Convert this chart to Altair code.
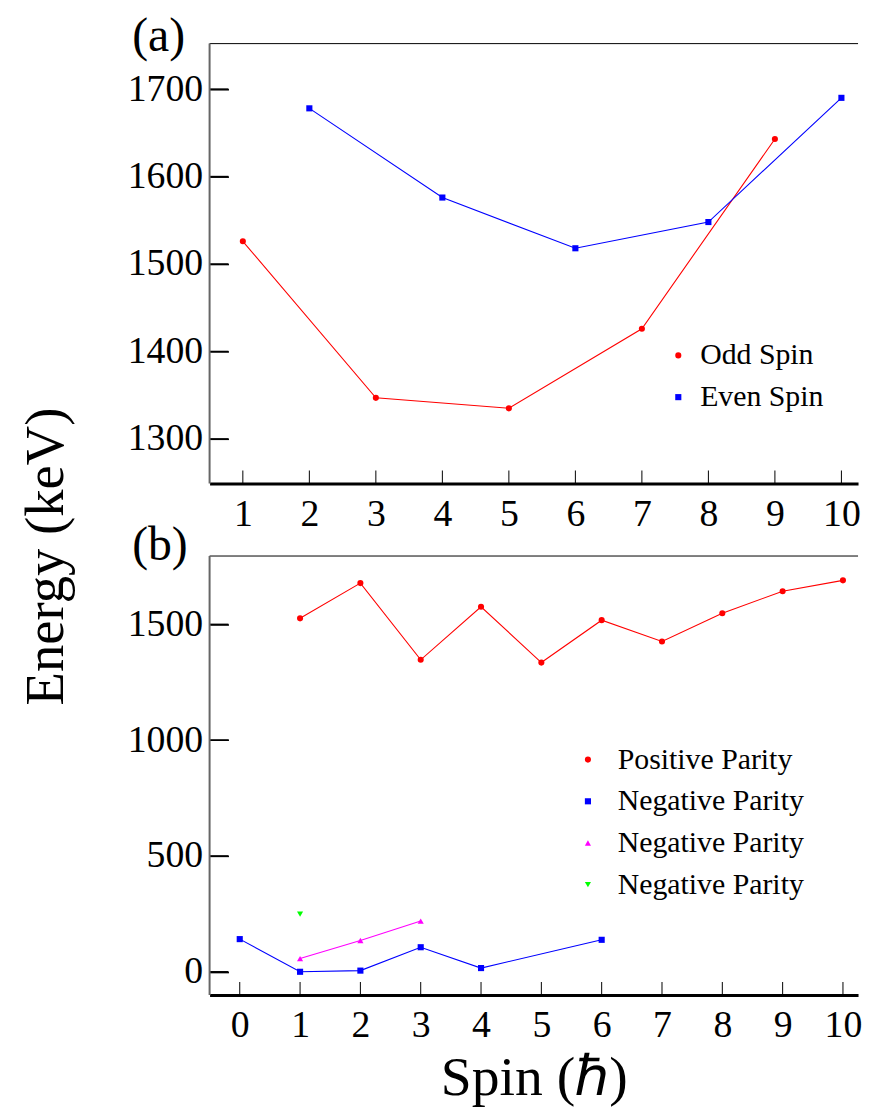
import altair as alt
import pandas as pd

# ---------------- data ----------------
odd_spin = [1, 3, 5, 7, 9]
odd_energy = [1526, 1347, 1335, 1426, 1643]
even_spin = [2, 4, 6, 8, 10]
even_energy = [1678, 1576, 1518, 1548, 1690]

pos_spin = [1, 2, 3, 4, 5, 6, 7, 8, 9, 10]
pos_energy = [1526, 1678, 1347, 1576, 1335, 1518, 1426, 1548, 1643, 1690]
neg1_spin = [0, 1, 2, 3, 4, 6]
neg1_energy = [141, 0, 5, 106, 16, 138]
neg2_spin = [1, 2, 3]
neg2_energy = [57, 135, 219]
neg3_spin = [1]
neg3_energy = [249]

top_series = ["Odd Spin", "Even Spin"]
bot_series = ["Positive Parity", "Negative Parity 1", "Negative Parity 2", "Negative Parity 3"]

xticks_a = [1, 2, 3, 4, 5, 6, 7, 8, 9, 10]
yticks_a = [1300, 1400, 1500, 1600, 1700]
xticks_b = [0, 1, 2, 3, 4, 5, 6, 7, 8, 9, 10]
yticks_b = [0, 500, 1000, 1500]

FONT = "Liberation Serif"
W = 653
H_A = 443
H_B = 442
YTICK = 19


def frame(spins, energies, name):
    return pd.DataFrame({"spin": spins, "energy": energies, "series": [name] * len(spins)})


top_df = pd.concat([frame(odd_spin, odd_energy, top_series[0]),
                    frame(even_spin, even_energy, top_series[1])])
bot_df = pd.concat([frame(pos_spin, pos_energy, bot_series[0]),
                    frame(neg1_spin, neg1_energy, bot_series[1]),
                    frame(neg2_spin, neg2_energy, bot_series[2]),
                    frame(neg3_spin, neg3_energy, bot_series[3])])


def panel(df, series, colors, shapes, xdom, ydom, xticks, yticks, H, label, title_dy,
          leg_kw, ytitle, xtitle):
    xs = alt.Scale(domain=xdom, nice=False, zero=False)
    ys = alt.Scale(domain=ydom, nice=False, zero=False)
    xaxis = alt.Axis(values=xticks, ticks=False, grid=False, domainColor="black",
                     domainWidth=3, labelFont=FONT, labelFontSize=38, labelColor="black",
                     labelPadding=12, labelFlush=False, format="d", title=xtitle,
                     titleFont=FONT, titleFontSize=56, titleFontWeight="normal",
                     titleColor="black", titlePadding=6)
    # y axis moved inward so that its ticks point into the plot from the left edge
    yaxis_kw = dict(values=yticks, ticks=True, tickSize=YTICK, tickColor="black",
                    tickWidth=1.5, tickOpacity=1, offset=-YTICK, domain=False, grid=False,
                    labelFont=FONT, labelFontSize=38, labelColor="black",
                    labelPadding=7, labelFlush=False, format="d", title=ytitle,
                    titleFont=FONT, titleFontSize=55, titleFontWeight="normal",
                    titleColor="black")
    if ytitle:
        yaxis_kw.update(titleAngle=270, titleX=-165 - YTICK, titleY=516,
                        titleAlign="center", titleBaseline="middle")
    yaxis = alt.Axis(**yaxis_kw)

    leg = alt.Legend(**leg_kw)

    layers = []
    for s, c in zip(series, colors):
        sub = df[df["series"] == s]
        layers.append(alt.Chart(sub).mark_line(strokeWidth=1.1, color=c).encode(
            x=alt.X("spin:Q", scale=xs, axis=xaxis),
            y=alt.Y("energy:Q", scale=ys, axis=yaxis),
        ))
    points = alt.Chart(df).mark_point(filled=True, size=38, opacity=1).encode(
        x=alt.X("spin:Q", scale=xs, axis=xaxis),
        y=alt.Y("energy:Q", scale=ys, axis=yaxis),
        color=alt.Color("series:N", scale=alt.Scale(domain=series, range=colors), legend=leg),
        shape=alt.Shape("series:N", scale=alt.Scale(domain=series, range=shapes), legend=leg),
    )
    xt = alt.Chart(pd.DataFrame({"spin": xticks})).mark_tick(
        color="black", orient="vertical", size=13, thickness=1, opacity=1).encode(
        x=alt.X("spin:Q", scale=xs, axis=xaxis),
        y=alt.value(H - 6.5),
    )
    yt = alt.Chart(pd.DataFrame({"energy": yticks})).mark_rule(
        color="black", strokeWidth=1.5).encode(
        y=alt.Y("energy:Q", scale=ys, axis=yaxis),
        x=alt.value(0), x2=alt.value(YTICK),
    )
    topline = alt.Chart(pd.DataFrame({"a": [0]})).mark_rule(color="black", strokeWidth=1).encode(
        x=alt.value(0), x2=alt.value(W), y=alt.value(0),
    )
    leftline = alt.Chart(pd.DataFrame({"a": [0]})).mark_rule(color="#666666", strokeWidth=2).encode(
        x=alt.value(0), y=alt.value(0), y2=alt.value(H),
    )
    return alt.layer(*layers, points, xt, yt, topline, leftline).properties(
        width=W, height=H,
        title=alt.TitleParams(label, anchor="start", frame="group", font=FONT, fontSize=48,
                              fontWeight="normal", color="black", dx=-78, dy=title_dy, offset=0),
    )


common_leg = dict(title=None, labelFont=FONT, labelFontSize=30, labelColor="black",
                  labelLimit=400, symbolSize=38, rowPadding=12)
top_leg = dict(orient="none", legendX=457, legendY=299, labelOffset=7, **common_leg)
bot_leg = dict(orient="none", legendX=366, legendY=190, labelOffset=15,
               labelExpr="indexof(datum.label, 'Negative') == 0 ? 'Negative Parity' : datum.label",
               **common_leg)

top = panel(top_df, top_series, ["#ff0000", "#0000ff"], ["circle", "square"],
            [0.5, 10.25], [1249, 1752], xticks_a, yticks_a, H_A, "(a)", 18,
            top_leg, "Energy (keV)", "")
bot = panel(bot_df, bot_series, ["#ff0000", "#0000ff", "#ff00ff", "#00ff00"],
            ["circle", "square", "triangle-up", "triangle-down"],
            [-0.5, 10.25], [-100, 1795], xticks_b, yticks_b, H_B, "(b)", 15,
            bot_leg, "", "Spin (\u210f)")

chart = alt.vconcat(top, bot, spacing=73, bounds="flush").resolve_scale(
    x="independent", y="independent", color="independent", shape="independent"
).configure_view(
    stroke="transparent"
).properties(background="white", padding={"left": 10, "top": 0, "right": 0, "bottom": 0})

chart.save("out.html", embed_options={"renderer": "svg", "actions": False})
